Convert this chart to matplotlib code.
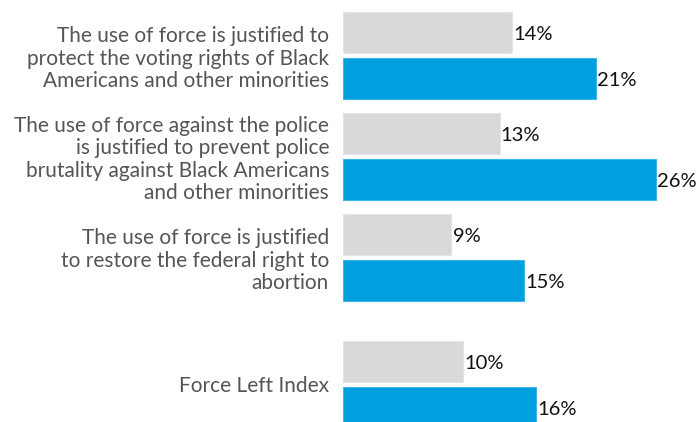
import matplotlib.pyplot as plt
import numpy as np

# statements and shares agreeing, two series per statement
statements = [
    "The use of force is justified to\nprotect the voting rights of Black\nAmericans and other minorities",
    "The use of force against the police\nis justified to prevent police\nbrutality against Black Americans\nand other minorities",
    "The use of force is justified\nto restore the federal right to\nabortion",
    "Force Left Index",
]
grey_values = [14, 13, 9, 10]
blue_values = [21, 26, 15, 16]

colors = {'grey': '#D9D9DB',
          'blue': '#00A0E0',
          'label': '#555555'}

plt.rcParams['font.family'] = ['Lato', 'DejaVu Sans']

fig = plt.figure(figsize=(6.97, 4.22), dpi=100)
ax = fig.add_axes([343 / 697, 0, 354 / 697, 1])

# group centres, last group pushed down a little
centres = np.array([0, 1, 2, 3.257])
offset = 0.228
height = 0.406

bars_g = ax.barh(centres - offset, grey_values, height=height,
                 color=colors['grey'], edgecolor='#E4E4E6', linewidth=0.8)
bars_b = ax.barh(centres + offset, blue_values, height=height,
                 color=colors['blue'], edgecolor='#3DB5E8', linewidth=0.8)

for bars, vals in ((bars_g, grey_values), (bars_b, blue_values)):
    for bar, v in zip(bars, vals):
        ax.text(v + 0.1, bar.get_y() + bar.get_height() / 2 + 0.02, f"{v}%",
                va='center', ha='left', fontsize=14.5, color='#111111')

ax.set_xlim(0, 29.38)
ax.set_ylim(3.629, -0.5495)
ax.set_yticks(centres)
ax.set_yticklabels(statements, fontsize=15.0, color=colors['label'],
                   linespacing=1.13)
ax.tick_params(axis='y', length=0, pad=10)
ax.set_xticks([])
for side in ax.spines.values():
    side.set_visible(False)

fig.savefig("out.png", dpi=100)
